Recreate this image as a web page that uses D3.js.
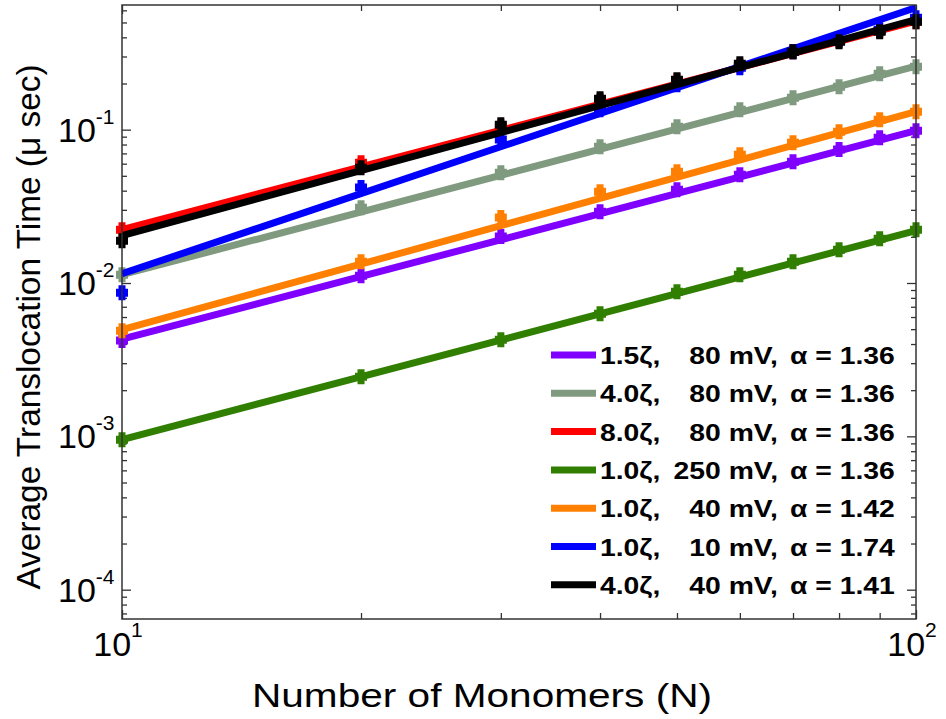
<!DOCTYPE html>
<html>
<head>
<meta charset="utf-8">
<script src="https://cdn.jsdelivr.net/npm/d3@7"></script>
<style>
  body { margin: 0; background: #fff; }
  text { font-family: "Liberation Sans", Arial, Helvetica, sans-serif; fill: #000; }
</style>
</head>
<body>
<script>
// monomer counts
var N = [10, 20, 30, 40, 50, 60, 70, 80, 90, 100];

// measured translocation times (usec), one array per run
var purple = [0.00421, 0.01116, 0.0201, 0.0292, 0.0406, 0.0509, 0.0618, 0.0741, 0.0887, 0.0985];
var gray   = [0.01133, 0.0310, 0.0524, 0.0775, 0.1046, 0.1350, 0.1617, 0.1908, 0.2319, 0.2576];
var red    = [0.02228, 0.0609, 0.1046, 0.1546, 0.2087, 0.2615, 0.3227, 0.3805, 0.4423, 0.5063];
var green  = [0.000951, 0.002449, 0.00427, 0.00631, 0.00878, 0.01133, 0.01377, 0.0165, 0.01946, 0.02228];
var orange = [0.00489, 0.01377, 0.0267, 0.0394, 0.0532, 0.0687, 0.0823, 0.0970, 0.1162, 0.131];
var blue   = [0.00865, 0.0419, 0.0861, 0.1350, 0.1966, 0.2537, 0.3227, 0.3864, 0.4489, 0.5377];
var black  = [0.01888, 0.0565, 0.1078, 0.1593, 0.2119, 0.2694, 0.3227, 0.3749, 0.4356, 0.5063];

// power-law fit lines, value at N=10 and at N=100
var fitLo = [0.00430, 0.01133, 0.02228, 0.000951, 0.00496, 0.01150, 0.02036];
var fitHi = [0.0985, 0.2595, 0.510, 0.02195, 0.131, 0.625, 0.5218];

// legend texts
var zetas = ["1.5\u03B6,", "4.0\u03B6,", "8.0\u03B6,", "1.0\u03B6,", "1.0\u03B6,", "1.0\u03B6,", "4.0\u03B6,"];
var volts = ["80 mV,", "80 mV,", "80 mV,", "250 mV,", "40 mV,", "10 mV,", "40 mV,"];
var alphas = ["1.36", "1.36", "1.36", "1.36", "1.42", "1.74", "1.41"];

var xTicks = [10, 100];
var xExp = ["1", "2"];
var yTicks = [1e-4, 1e-3, 1e-2, 1e-1];
var yExp = ["-4", "-3", "-2", "-1"];

var series = [purple, gray, red, green, orange, blue, black];
var colors = ["#8000ff", "#7f9a7f", "#ff0000", "#307f00", "#ff8000", "#0000ff", "#000000"];

var svg = d3.select("body").append("svg")
  .attr("width", 946)
  .attr("height", 719);

var x = d3.scaleLog().domain([10, 100]).range([122, 916]);
var y = d3.scaleLog().domain([6.44e-5, 0.65]).range([619, 5]);

// minor ticks
var xMinor = d3.range(20, 100, 10);
var yMinor = [];
[1e-4, 1e-3, 1e-2, 1e-1].forEach(function(d) {
  d3.range(2, 10).forEach(function(k) { yMinor.push(d * k); });
});
yMinor = yMinor.concat([1e-5 * 7, 1e-5 * 8, 1e-5 * 9]).filter(function(v) { return v <= 0.65 && v >= 6.44e-5; });

function axisG(axis, tr) {
  var g = svg.append("g").attr("transform", tr).call(axis);
  g.select(".domain").remove();
  g.selectAll("line").attr("stroke", "#333").attr("stroke-width", 1.3);
  g.selectAll("text").remove();
}
axisG(d3.axisBottom(x).tickValues(xTicks).tickSize(-9).tickSizeOuter(0), "translate(0,619)");
axisG(d3.axisBottom(x).tickValues(xMinor).tickSize(-6).tickSizeOuter(0), "translate(0,619)");
axisG(d3.axisTop(x).tickValues(xTicks).tickSize(-9).tickSizeOuter(0), "translate(0,5)");
axisG(d3.axisTop(x).tickValues(xMinor).tickSize(-6).tickSizeOuter(0), "translate(0,5)");
axisG(d3.axisLeft(y).tickValues(yTicks).tickSize(-9).tickSizeOuter(0), "translate(122,0)");
axisG(d3.axisLeft(y).tickValues(yMinor).tickSize(-5).tickSizeOuter(0), "translate(122,0)");
axisG(d3.axisRight(y).tickValues(yTicks).tickSize(-9).tickSizeOuter(0), "translate(916,0)");
axisG(d3.axisRight(y).tickValues(yMinor).tickSize(-5).tickSizeOuter(0), "translate(916,0)");

// fit lines, clipped to the plot box
svg.append("clipPath").attr("id", "plot")
  .append("rect").attr("x", 122).attr("y", 5).attr("width", 794).attr("height", 614);

var marker = "M-6,-4H-3.5V-7.5H3.5V-4H6V4H3.5V7.5H-3.5V4H-6Z";

series.forEach(function(vals, i) {
  svg.append("line")
     .attr("clip-path", "url(#plot)")
     .attr("x1", x(10)).attr("y1", y(fitLo[i]))
     .attr("x2", x(100)).attr("y2", y(fitHi[i]))
     .attr("stroke", colors[i])
     .attr("stroke-width", 7);
  svg.append("g").selectAll("path")
     .data(vals)
     .enter().append("path")
       .attr("d", marker)
       .attr("fill", colors[i])
       .attr("transform", function(d, j) { return "translate(" + x(N[j]) + "," + y(d) + ")"; });
});

// box
svg.append("rect")
   .attr("x", 122).attr("y", 5).attr("width", 794).attr("height", 614)
   .attr("fill", "none").attr("stroke", "#333").attr("stroke-width", 1.5);

// tick labels
xTicks.forEach(function(d, i) {
  var t = svg.append("text")
     .attr("x", x(d) - 4).attr("y", 656)
     .attr("text-anchor", "middle")
     .attr("font-size", 34);
  t.append("tspan").text("10");
  t.append("tspan").attr("dy", -19).attr("font-size", 21).text(xExp[i]);
});
yTicks.forEach(function(d, i) {
  var t = svg.append("text")
     .attr("x", 58).attr("y", y(d) + 12)
     .attr("font-size", 34);
  t.append("tspan").text("10");
  t.append("tspan").attr("dy", -18).attr("font-size", 21).text(yExp[i]);
});

// axis titles
svg.append("text")
   .attr("x", 482).attr("y", 707)
   .attr("text-anchor", "middle")
   .attr("font-size", 34)
   .attr("textLength", 460)
   .attr("lengthAdjust", "spacingAndGlyphs")
   .text("Number of Monomers (N)");

svg.append("text")
   .attr("transform", "translate(40,327) rotate(-90)")
   .attr("text-anchor", "middle")
   .attr("font-size", 34)
   .attr("textLength", 525)
   .attr("lengthAdjust", "spacingAndGlyphs")
   .text("Average Translocation Time (\u03BC sec)");

// legend
var leg = svg.append("g");
series.forEach(function(vals, i) {
  var cy = 355 + i * 38.3;
  leg.append("line")
     .attr("x1", 551).attr("x2", 596)
     .attr("y1", cy).attr("y2", cy)
     .attr("stroke", colors[i]).attr("stroke-width", 7);
  leg.append("text")
     .attr("transform", "translate(600," + (cy + 9) + ") scale(1.18,1)")
     .attr("font-size", 24).attr("font-weight", "bold")
     .text(zetas[i]);
  leg.append("text")
     .attr("transform", "translate(778," + (cy + 9) + ") scale(1.18,1)")
     .attr("text-anchor", "end")
     .attr("font-size", 24).attr("font-weight", "bold")
     .text(volts[i]);
  leg.append("text")
     .attr("transform", "translate(790," + (cy + 9) + ") scale(1.18,1)")
     .attr("font-size", 24).attr("font-weight", "bold")
     .text("\u03B1 = " + alphas[i]);
});
</script>
</body>
</html>
